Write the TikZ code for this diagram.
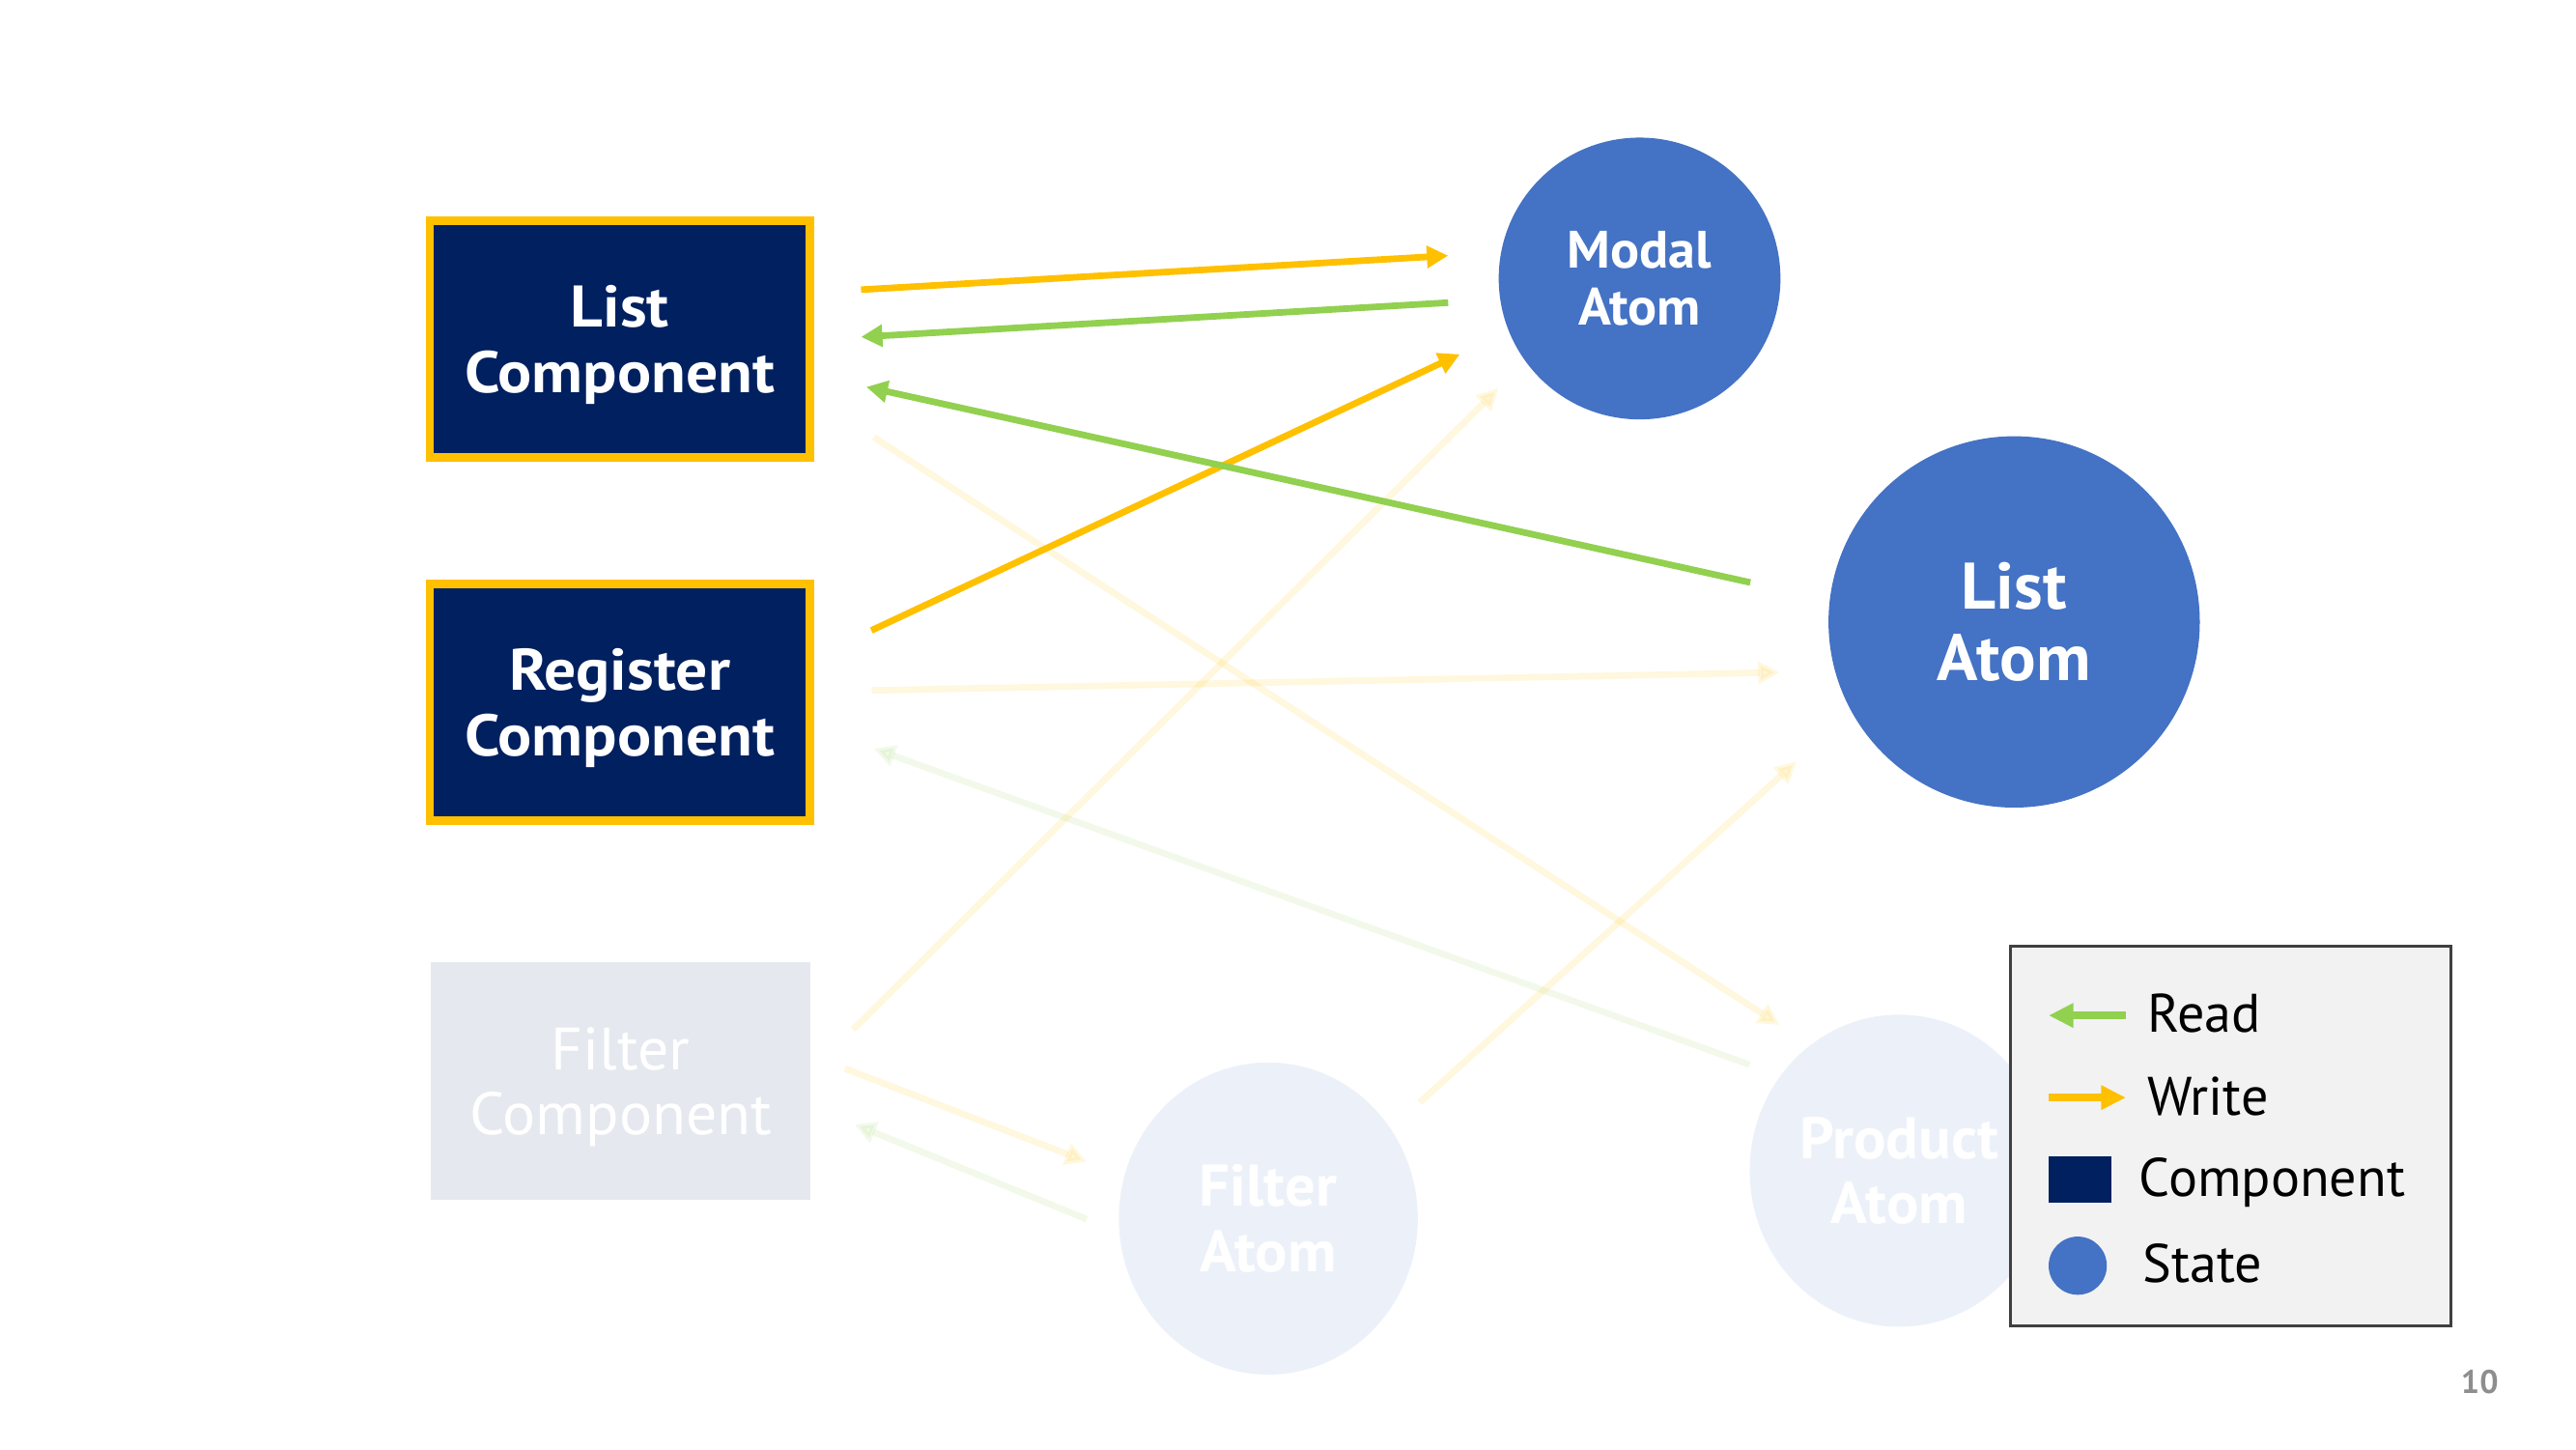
\documentclass[tikz,border=0pt]{standalone}
\usepackage{fontspec}
\setmainfont{PT Sans}
\newfontfamily\boxfont{PT Sans}[FakeStretch=1.08]
\newfontfamily\atomfont{PT Sans}[FakeStretch=1.03]
\usetikzlibrary{arrows.meta,shapes.geometric}
\definecolor{navy}{HTML}{002060}
\definecolor{gold}{HTML}{FFC000}
\definecolor{atomblue}{HTML}{4472C4}
\definecolor{rgreen}{HTML}{92D050}
\definecolor{legfill}{HTML}{F2F2F2}
\definecolor{legline}{HTML}{404040}
\definecolor{pagegray}{HTML}{8E8E8E}
\begin{document}
\begin{tikzpicture}[x=1pt,y=-1pt,
  compbox/.style={rectangle, fill=navy, draw=gold, line width=5pt, minimum width=231.5pt, minimum height=144pt, inner sep=0pt, text=white, align=center, text depth=0pt, font=\boxfont\bfseries\fontsize{35.7}{40}\selectfont},
  fadebox/.style={rectangle, fill=navy!10, minimum width=231pt, minimum height=144.7pt, inner sep=0pt, text=white, align=center, text depth=0pt, font=\atomfont\fontsize{36.4}{39}\selectfont},
  atom/.style={circle, fill=atomblue, inner sep=0pt, text=white, align=center},
  fadeatom/.style={ellipse, fill=atomblue!10, minimum width=182pt, minimum height=190pt, inner sep=0pt, text=white, align=center, font=\atomfont\bfseries\fontsize{35.7}{39.5}\selectfont},
  wr/.style={draw=gold, line width=4pt, -{Triangle[length=13pt,width=13pt]}},
  rd/.style={draw=rgreen, line width=4pt, -{Triangle[length=13pt,width=13pt]}},
  fwr/.style={wr, opacity=0.13},
  frd/.style={rd, opacity=0.12},
  legtext/.style={anchor=base west, inner sep=0pt, font=\fontsize{33}{36}\selectfont}
]
\useasboundingbox (0,0) rectangle (1568,882);

% nodes
\node[compbox] (lc) at (377.3,206.4) {List\\Component};
\node[compbox] (rc) at (377.3,427.4) {Register\\Component};
\node[fadebox] (fc) at (377.8,657.9) {Filter\\Component};
\node[atom, minimum size=171.5pt, font=\atomfont\bfseries\fontsize{32}{35}\selectfont] (ma) at (998,169.5) {Modal\\Atom};
\node[atom, minimum size=226pt, font=\atomfont\bfseries\fontsize{40}{43}\selectfont] (la) at (1226,378.5) {List\\Atom};
\node[fadeatom] (fa) at (772,741.6) {Filter\\Atom};
\node[fadeatom] (pa) at (1156,712.5) {Product\\Atom};

% connector end points
\coordinate (w1s) at (524.1,176.3); \coordinate (w1e) at (881.5,155.6);
\coordinate (r1s) at (881.5,184.2); \coordinate (r1e) at (524.1,205.1);
\coordinate (w2s) at (530.4,383.7); \coordinate (w2e) at (888.6,215.6);
\coordinate (r2s) at (1065.4,354.5); \coordinate (r2e) at (527.3,235.5);
\coordinate (f1s) at (531.9,266.1); \coordinate (f1e) at (1083.2,623.8);
\coordinate (f2s) at (530.6,420.2); \coordinate (f2e) at (1083.2,409.2);
\coordinate (f3s) at (1065,648); \coordinate (f3e) at (531.9,455.6);
\coordinate (f4s) at (519.2,626.6); \coordinate (f4e) at (912,236.4);
\coordinate (f5s) at (514.3,650.3); \coordinate (f5e) at (661.5,707);
\coordinate (f6s) at (661.5,742); \coordinate (f6e) at (520.2,684.3);
\coordinate (f7s) at (864.2,670.9); \coordinate (f7e) at (1093.5,463.5);

% faded connectors
\draw[fwr] (f1s) -- (f1e);
\draw[fwr] (f2s) -- (f2e);
\draw[frd] (f3s) -- (f3e);
\draw[fwr] (f4s) -- (f4e);
\draw[fwr] (f5s) -- (f5e);
\draw[frd] (f6s) -- (f6e);
\draw[fwr] (f7s) -- (f7e);

% active connectors
\draw[wr] (w1s) -- (w1e);
\draw[rd] (r1s) -- (r1e);
\draw[wr] (w2s) -- (w2e);
\draw[rd] (r2s) -- (r2e);

% legend
\node[rectangle, draw=legline, line width=1.8pt, fill=legfill, minimum width=268.3pt, minimum height=231pt, inner sep=0pt] (leg) at (1357.9,691.5) {};
\coordinate (lrs) at (1294,618); \coordinate (lre) at (1247,618);
\coordinate (lws) at (1247,668); \coordinate (lwe) at (1294,668);
\draw[draw=rgreen, line width=5pt, -{Triangle[length=15pt,width=14pt]}] (lrs) -- (lre);
\draw[draw=gold, line width=5pt, -{Triangle[length=15pt,width=14pt]}] (lws) -- (lwe);
\node[rectangle, fill=navy, minimum width=38.2pt, minimum height=28pt, inner sep=0pt] (lcomp) at (1266,717.8) {};
\node[circle, fill=atomblue, minimum size=35.4pt, inner sep=0pt] (lstate) at (1264.7,770.3) {};
\node[legtext] (tread) at (1307,628) {Read};
\node[legtext] (twrite) at (1307,679) {Write};
\node[legtext] (tcomp) at (1302,728.4) {Component};
\node[legtext] (tstate) at (1304,780.6) {State};

% page number
\node[anchor=base west, inner sep=0pt, text=pagegray, font=\bfseries\fontsize{20}{22}\selectfont] (pnum) at (1497.8,847.8) {10};
\end{tikzpicture}
\end{document}
